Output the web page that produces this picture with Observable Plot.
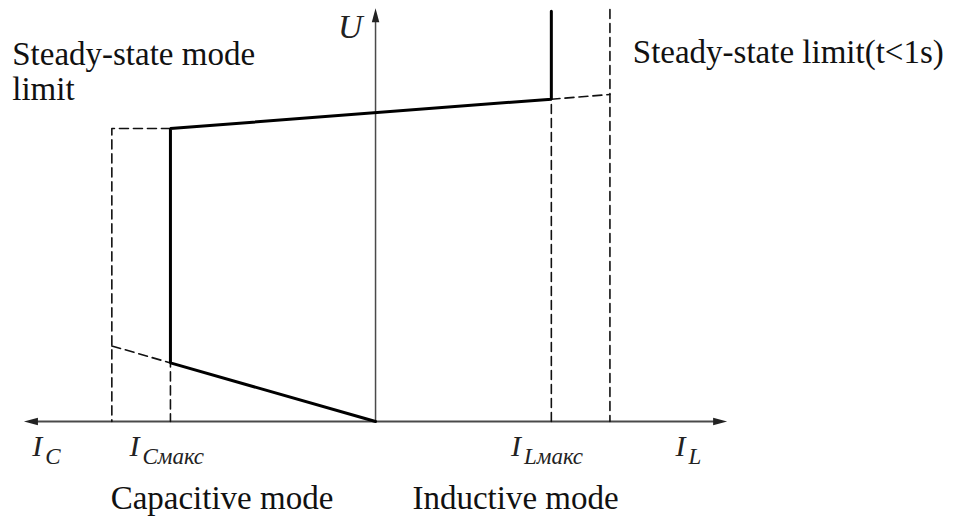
<!DOCTYPE html>
<html>
<head>
<meta charset="utf-8">
<script src="https://cdn.jsdelivr.net/npm/d3@7"></script>
<script src="https://cdn.jsdelivr.net/npm/@observablehq/plot@0.6"></script>
<style>
  html, body { margin: 0; padding: 0; background: #fff; }
  #chart svg { display: block; }
  #chart svg text { font-family: "Liberation Serif", "Times New Roman", serif; }
</style>
</head>
<body>
<div id="chart"></div>
<script>
// Operating boundary of the compensator (solid): current I (capacitive < 0 < inductive), voltage U
const boundaryI = [0, -3.5, -3.5, 3, 3];
const boundaryU = [0, 1.0, 5.0, 5.5, 7.0];

// Steady-state / short-term limit lines (dashed), grouped as polylines
const limitGroup = ["a", "a", "a", "b", "b", "b", "c", "c", "c", "d", "d"];
const limitI     = [-3.5, -4.5, -4.5, -4.5, -3.5, -3.5, 3, 3, 4, 4, 4];
const limitU     = [5.0, 5.0, 0, 1.29, 1.0, 0, 0, 5.5, 5.58, 7.03, 0];

// Axes extents
const axisIMin = -6, axisIMax = 6, axisUTop = 7.05;
const arrowI = [axisIMin, axisIMax, 0];
const arrowU = [0, 0, axisUTop];
const arrowAngle = [180, 0, -90];

// Axis symbols: main letter + subscript
const symMain = ["I", "I", "I", "I", "U"];
const symSub  = ["C", "Смакс", "Lмакс", "L", ""];
const symSize = [30, 30, 30, 30, 34];
const symI    = [-5.86, -4.2, 2.31, 5.12, -0.64];
const symU    = [-0.58, -0.58, -0.58, -0.58, 6.55];

// Descriptive labels
const noteText = ["Steady-state mode", "limit", "Steady-state limit(t<1s)", "Capacitive mode", "Inductive mode"];
const noteI    = [-6.2, -6.2, 4.39, -4.52, 0.63];
const noteU    = [6.08, 5.48, 6.11, -1.5, -1.5];

const boundary = boundaryI.map((d, i) => ({I: d, U: boundaryU[i]}));
const limits = limitI.map((d, i) => ({g: limitGroup[i], I: d, U: limitU[i]}));
const arrows = arrowI.map((d, i) => ({I: d, U: arrowU[i], a: arrowAngle[i]}));
const syms = symMain.map((d, i) => ({m: d, s: symSub[i], size: symSize[i], I: symI[i], U: symU[i]}));
const notes = noteText.map((d, i) => ({t: d, I: noteI[i], U: noteU[i]}));

const arrowHead = {
  draw(context) {
    const L = 14, W = 7.5;
    context.moveTo(0, 0);
    context.lineTo(-L, -W / 2);
    context.lineTo(-L, W / 2);
    context.closePath();
  }
};

const serif = "'Liberation Serif', 'Times New Roman', serif";

const chart = Plot.plot({
  width: 956,
  height: 518,
  margin: 0,
  style: {background: "#fff", fontFamily: serif},
  x: {domain: [-6.4, 9.914], axis: null},
  y: {domain: [-1.655, 7.184], axis: null},
  marks: [
    Plot.ruleY([0], {x1: axisIMin + 0.1, x2: axisIMax - 0.1, stroke: "#4a4a4a", strokeWidth: 2}),
    Plot.ruleX([0], {y1: 0, y2: axisUTop - 0.1, stroke: "#4a4a4a", strokeWidth: 1.5}),
    Plot.dot(arrows, {x: "I", y: "U", rotate: "a", symbol: arrowHead, fill: "#222", stroke: "none"}),
    Plot.line(limits, {x: "I", y: "U", z: "g", stroke: "#111", strokeWidth: 1.6, strokeDasharray: "9,5", curve: "linear"}),
    Plot.line(boundary, {x: "I", y: "U", stroke: "#000", strokeWidth: 3, curve: "linear", strokeLinejoin: "miter"}),
    Plot.text(notes, {x: "I", y: "U", text: "t", textAnchor: "start", lineAnchor: "bottom",
      fontFamily: serif, fontSize: 33, fill: "#111"}),
    Plot.text(syms, {x: "I", y: "U", text: "m", textAnchor: "start", lineAnchor: "bottom",
      fontFamily: serif, fontSize: "size", fontStyle: "italic", fill: "#222"}),
    Plot.text(syms, {x: "I", y: "U", text: "s", textAnchor: "start", lineAnchor: "bottom",
      dx: 13, dy: 8, fontFamily: serif, fontSize: 23, fontStyle: "italic", fill: "#222"})
  ]
});
document.getElementById("chart").appendChild(chart);
</script>
</body>
</html>
